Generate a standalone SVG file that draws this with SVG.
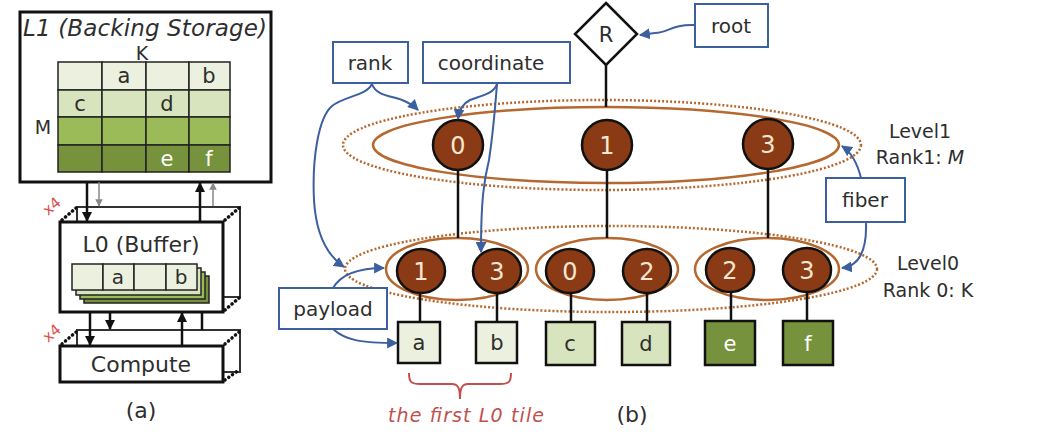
<svg xmlns="http://www.w3.org/2000/svg" width="1056" height="434" viewBox="0 0 1056 434">
<defs>
<style>
text{font-family:"DejaVu Sans","Verdana",sans-serif;fill:#2e2e2e}
.box{fill:#fff;stroke:#111;stroke-width:3}
.back{fill:none;stroke:#333;stroke-width:2}
.dots{fill:none;stroke:#111;stroke-width:3.5;stroke-dasharray:0.1 4.5;stroke-linecap:round}
.cell{stroke:#222;stroke-width:1.5}
.blk{stroke:#111;stroke-width:2.5;fill:none}
.gry{stroke:#888;stroke-width:1.5;fill:none}
.ann{fill:#fff;stroke:#3b5f9f;stroke-width:2}
.acon{fill:none;stroke:#3b5f9f;stroke-width:2}
.ring{fill:none;stroke:#b5682f;stroke-width:2.5}
.dring{fill:none;stroke:#b5682f;stroke-width:2.5;stroke-dasharray:2 2}
.node{fill:#8a3a14;stroke:#111;stroke-width:2.5}
.ntxt{fill:#f6e7d2;font-size:24px;text-anchor:middle}
.edge{stroke:#111;stroke-width:2.5}
.leaf{stroke:#111;stroke-width:2.5}
.lt{font-size:21px;text-anchor:middle}
.l1{fill:#ebf1de}.l2{fill:#d7e4bd}.l3{fill:#9bbb59}.l4{fill:#76923c}
</style>
<marker id="ab" viewBox="0 0 10 10" refX="9" refY="5" markerWidth="5.5" markerHeight="5.5" orient="auto"><path d="M0,0 L10,5 L0,10 z" fill="#3b5f9f"/></marker>
<marker id="ak" viewBox="0 0 10 10" refX="9" refY="5" markerWidth="4" markerHeight="4" orient="auto"><path d="M0,0 L10,5 L0,10 z" fill="#111"/></marker>
<marker id="ag" viewBox="0 0 10 10" refX="9" refY="5" markerWidth="5" markerHeight="5" orient="auto"><path d="M0,0 L10,5 L0,10 z" fill="#888"/></marker>
</defs>

<!-- Panel (a) -->
<g id="L1">
<rect class="box" x="20" y="12" width="251" height="170"/>
<text x="145" y="36" font-size="23" font-style="italic" text-anchor="middle" textLength="244">L1 (Backing Storage)</text>
<text x="142" y="60" font-size="19" text-anchor="middle">K</text>
<text x="43" y="134" font-size="19" text-anchor="middle">M</text>
<g class="cell">
<rect class="l1" x="58" y="62" width="44" height="28"/><rect class="l1" x="102" y="62" width="44" height="28"/><rect class="l1" x="146" y="62" width="43" height="28"/><rect class="l1" x="189" y="62" width="41" height="28"/>
<rect class="l2" x="58" y="90" width="44" height="27"/><rect class="l2" x="102" y="90" width="44" height="27"/><rect class="l2" x="146" y="90" width="43" height="27"/><rect class="l2" x="189" y="90" width="41" height="27"/>
<rect class="l3" x="58" y="117" width="44" height="28"/><rect class="l3" x="102" y="117" width="44" height="28"/><rect class="l3" x="146" y="117" width="43" height="28"/><rect class="l3" x="189" y="117" width="41" height="28"/>
<rect class="l4" x="58" y="145" width="44" height="27"/><rect class="l4" x="102" y="145" width="44" height="27"/><rect class="l4" x="146" y="145" width="43" height="27"/><rect class="l4" x="189" y="145" width="41" height="27"/>
</g>
<text x="124" y="83" font-size="21" text-anchor="middle">a</text>
<text x="209" y="83" font-size="21" text-anchor="middle">b</text>
<text x="80" y="111" font-size="21" text-anchor="middle">c</text>
<text x="167" y="111" font-size="21" text-anchor="middle">d</text>
<text x="167" y="166" font-size="21" text-anchor="middle" style="fill:#fff">e</text>
<text x="209" y="166" font-size="21" text-anchor="middle" style="fill:#fff">f</text>
</g>

<g id="L0">
<path class="back" d="M77,222 V207 H240 V297 H223"/>
<path class="dots" d="M62,220 L76,208 M225,220 L239,208 M225,310 L239,298"/>
<text x="0" y="0" font-size="15" style="fill:#d9534f" transform="translate(48,216) rotate(-40)">x4</text>
<rect class="box" x="60" y="222" width="163" height="90"/>
<text x="141" y="252" font-size="22" text-anchor="middle">L0 (Buffer)</text>
<g class="cell">
<rect class="l4" x="84" y="276" width="125" height="27"/>
<rect class="l3" x="80" y="272" width="125" height="27"/>
<rect class="l2" x="76" y="268" width="125" height="27"/>
<rect class="l1" x="72" y="264" width="31" height="26"/><rect class="l1" x="103" y="264" width="31" height="26"/><rect class="l1" x="134" y="264" width="32" height="26"/><rect class="l1" x="166" y="264" width="31" height="26"/>
</g>
<text x="118" y="284" font-size="20" text-anchor="middle">a</text>
<text x="181" y="284" font-size="20" text-anchor="middle">b</text>
</g>

<g id="Compute">
<path class="back" d="M77,346 V330 H240 V372 H223"/>
<path class="dots" d="M62,344 L76,332 M225,344 L239,332 M225,380 L239,370"/>
<text x="0" y="0" font-size="15" style="fill:#d9534f" transform="translate(48,343) rotate(-40)">x4</text>
<rect class="box" x="60" y="346" width="163" height="36"/>
<text x="141" y="372" font-size="22" text-anchor="middle">Compute</text>
</g>

<g id="a-connectors">
<line class="blk" x1="87" y1="182" x2="87" y2="221" marker-end="url(#ak)"/>
<line class="gry" x1="99" y1="182" x2="99" y2="206" marker-end="url(#ag)"/>
<line class="blk" x1="200" y1="222" x2="200" y2="183" marker-end="url(#ak)"/>
<line class="gry" x1="213" y1="206" x2="213" y2="183" marker-end="url(#ag)"/>
<line class="blk" x1="90" y1="312" x2="90" y2="345" marker-end="url(#ak)"/>
<line class="blk" x1="110" y1="312" x2="110" y2="329" marker-end="url(#ak)"/>
<line class="blk" x1="182" y1="346" x2="182" y2="313" marker-end="url(#ak)"/>
<line class="blk" x1="202" y1="312" x2="202" y2="330"/>
</g>
<text x="141" y="418" font-size="22" text-anchor="middle">(a)</text>

<!-- Panel (b) -->
<g id="rings">
<ellipse class="dring" cx="602" cy="145" rx="259" ry="45"/>
<ellipse class="ring" cx="606" cy="145" rx="233" ry="38"/>
<ellipse class="dring" cx="611" cy="269" rx="266" ry="43"/>
<ellipse class="ring" cx="457" cy="269" rx="71" ry="31"/>
<ellipse class="ring" cx="607" cy="269" rx="71" ry="31"/>
<ellipse class="ring" cx="767" cy="269" rx="72" ry="31"/>
</g>

<g id="edges">
<line class="edge" x1="606" y1="65" x2="606" y2="107"/>
<line class="edge" x1="458" y1="170" x2="458" y2="238"/>
<line class="edge" x1="607" y1="170" x2="607" y2="238"/>
<line class="edge" x1="768" y1="169" x2="768" y2="238"/>
<line class="edge" x1="420" y1="292" x2="420" y2="322"/>
<line class="edge" x1="497" y1="292" x2="497" y2="322"/>
<line class="edge" x1="571" y1="292" x2="571" y2="322"/>
<line class="edge" x1="647" y1="292" x2="647" y2="322"/>
<line class="edge" x1="731" y1="292" x2="731" y2="321"/>
<line class="edge" x1="807" y1="292" x2="807" y2="321"/>
</g>

<g id="R">
<polygon points="606,3 637,34 606,65 575,34" fill="#fff" stroke="#111" stroke-width="2.5"/>
<text x="606" y="42" font-size="21" text-anchor="middle">R</text>
</g>

<g id="n1-0"><circle class="node" cx="458" cy="145" r="25"/><text class="ntxt" x="458" y="154">0</text></g>
<g id="n1-1"><circle class="node" cx="607" cy="145" r="25"/><text class="ntxt" x="607" y="154">1</text></g>
<g id="n1-3"><circle class="node" cx="768" cy="144" r="25"/><text class="ntxt" x="768" y="153">3</text></g>

<g id="n0-1"><ellipse class="node" cx="421" cy="271" rx="24" ry="22"/><text class="ntxt" x="421" y="280">1</text></g>
<g id="n0-3"><ellipse class="node" cx="497" cy="271" rx="24" ry="22"/><text class="ntxt" x="497" y="280">3</text></g>
<g id="n0-0"><ellipse class="node" cx="570" cy="271" rx="24" ry="22"/><text class="ntxt" x="570" y="280">0</text></g>
<g id="n0-2"><ellipse class="node" cx="647" cy="271" rx="24" ry="22"/><text class="ntxt" x="647" y="280">2</text></g>
<g id="n0-2b"><ellipse class="node" cx="730" cy="270" rx="24" ry="22"/><text class="ntxt" x="730" y="279">2</text></g>
<g id="n0-3b"><ellipse class="node" cx="807" cy="270" rx="24" ry="22"/><text class="ntxt" x="807" y="279">3</text></g>

<g id="leaf-a"><rect class="leaf l1" x="398" y="322" width="42" height="41"/><text class="lt" x="419" y="350">a</text></g>
<g id="leaf-b"><rect class="leaf l1" x="476" y="322" width="41" height="41"/><text class="lt" x="497" y="350">b</text></g>
<g id="leaf-c"><rect class="leaf l2" x="546" y="322" width="49" height="43"/><text class="lt" x="570" y="351">c</text></g>
<g id="leaf-d"><rect class="leaf l2" x="622" y="322" width="48" height="43"/><text class="lt" x="646" y="351">d</text></g>
<g id="leaf-e"><rect class="leaf l4" x="705" y="321" width="50" height="44"/><text class="lt" x="730" y="351" style="fill:#fff">e</text></g>
<g id="leaf-f"><rect class="leaf l4" x="783" y="321" width="50" height="44"/><text class="lt" x="808" y="351" style="fill:#fff">f</text></g>

<g id="brace">
<path d="M409,373 C409,382 411,384 420,384 L452,384 C458,384 460,388 460,399 C460,388 462,384 468,384 L500,384 C509,384 511,382 511,373" fill="none" stroke="#c0504d" stroke-width="2"/>
<text x="466" y="422" font-size="19" font-style="italic" text-anchor="middle" textLength="156" style="fill:#c0504d">the first L0 tile</text>
</g>
<text x="632" y="422" font-size="22" text-anchor="middle">(b)</text>

<g id="root"><rect class="ann" x="695" y="4" width="73" height="43"/><text x="731" y="33" font-size="20" text-anchor="middle">root</text></g>
<g id="rank"><rect class="ann" x="333" y="42" width="75" height="41"/><text x="370" y="70" font-size="20" text-anchor="middle">rank</text></g>
<g id="coordinate"><rect class="ann" x="423" y="42" width="147" height="41"/><text x="491" y="70" font-size="20" text-anchor="middle">coordinate</text></g>
<g id="payload"><rect class="ann" x="279" y="288" width="108" height="41"/><text x="333" y="316" font-size="20" text-anchor="middle">payload</text></g>
<g id="fiber"><rect class="ann" x="826" y="178" width="79" height="44"/><text x="865" y="207" font-size="20" text-anchor="middle">fiber</text></g>

<g id="levels">
<text x="920" y="138" font-size="19" text-anchor="middle">Level1</text>
<text x="920" y="164" font-size="19" text-anchor="middle">Rank1: <tspan font-style="italic">M</tspan></text>
<text x="928" y="270" font-size="19" text-anchor="middle">Level0</text>
<text x="928" y="297" font-size="19" text-anchor="middle">Rank 0: K</text>
</g>

<g id="b-connectors">
<path class="acon" d="M695,25 C672,24 668,33 655,33 L640,35" marker-end="url(#ab)"/>
<path class="acon" d="M372,84 C376,96 392,96 402,100 C410,103 414,106 418,110" marker-end="url(#ab)"/>
<path class="acon" d="M372,84 C366,96 344,96 332,106 C318,118 312,160 314,200 C316,235 328,256 344,267" marker-end="url(#ab)"/>
<path class="acon" d="M497,84 C494,94 480,96 470,100 C462,104 459,110 458,119" marker-end="url(#ab)"/>
<path class="acon" d="M497,84 C495,110 492,140 489,160 C484,180 481,200 481,252" marker-end="url(#ab)"/>
<path class="acon" d="M333,288 C340,276 355,268 384,268" marker-end="url(#ab)"/>
<path class="acon" d="M333,329 C345,340 360,343 397,343" marker-end="url(#ab)"/>
<path class="acon" d="M861,178 C857,162 851,152 842,146" marker-end="url(#ab)"/>
<path class="acon" d="M866,222 C867,250 860,266 842,268" marker-end="url(#ab)"/>
</g>
</svg>
